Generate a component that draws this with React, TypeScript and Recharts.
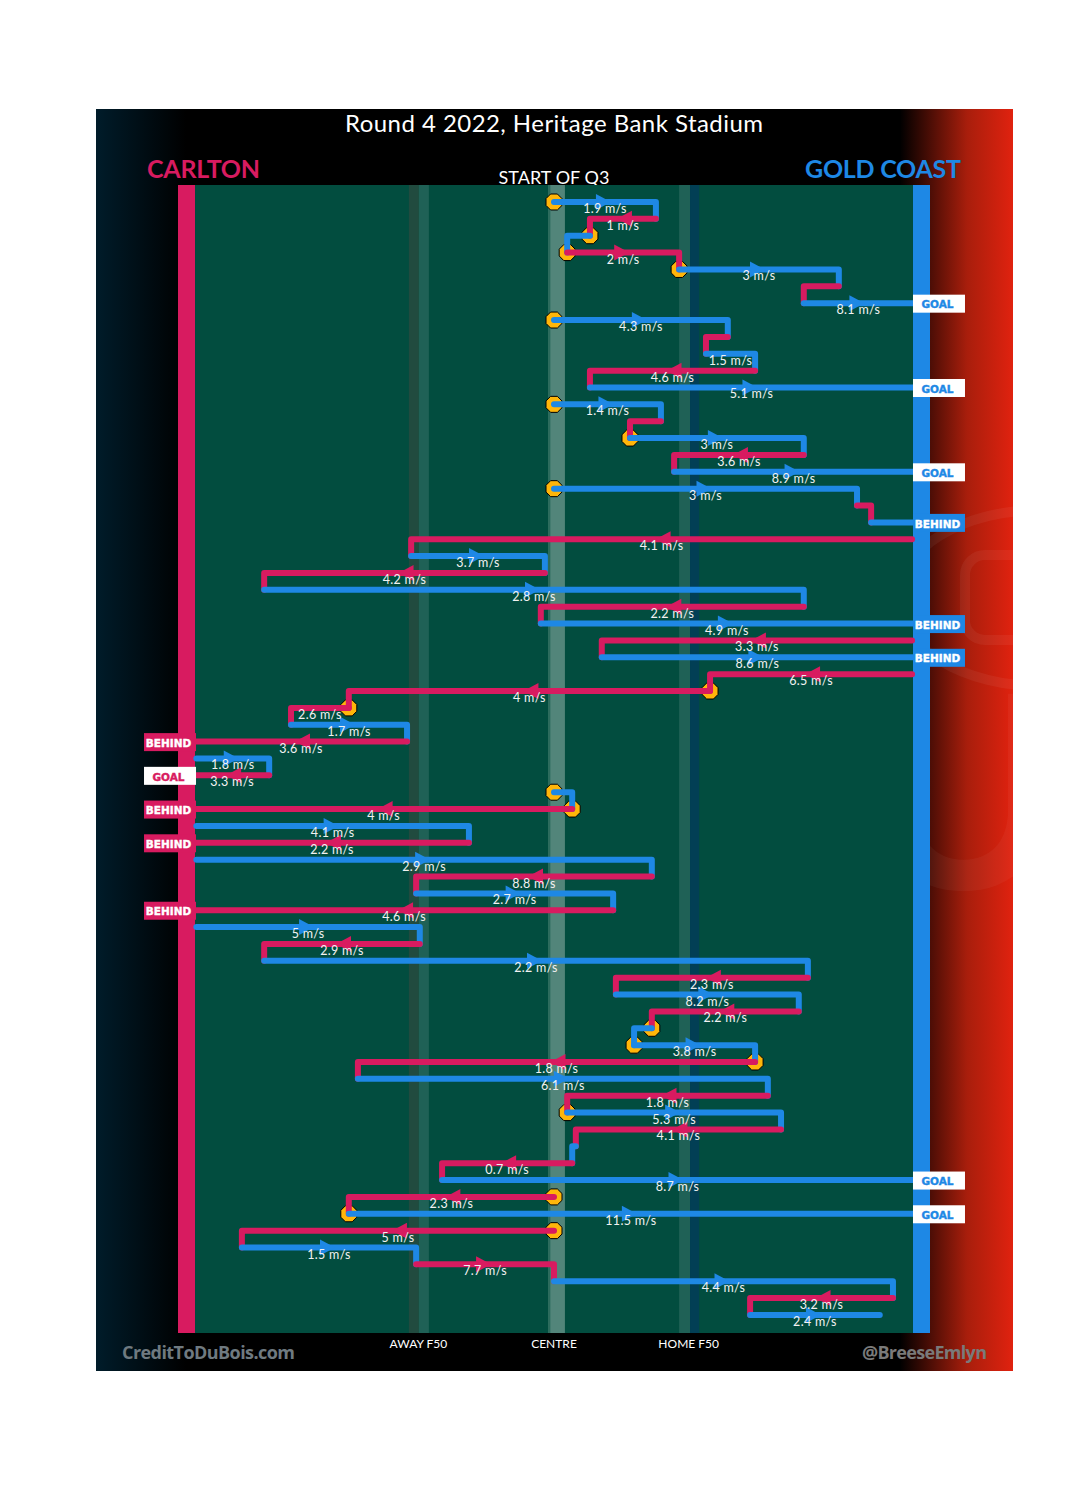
import React from "react";
import { ScatterChart, Scatter, XAxis, YAxis, ReferenceArea } from "recharts";

// x is metres from the centre of the ground, one row per disposal
const rowStart = [
  0, 22.4, 7.9, 2.9, 27.5, 62.6, 54.9, 0, 38.2, 33.4, 44.2, 7.9, 0, 23.5, 16.7, 54.9, 26.4,
  0, 66.6, 69.7, 78.7, -31.4, -2, -63.7, 54.9, -2.9, 78.7, 10.5, 78.7, 34.3, -45.1, -57.8,
  -32.3, -78.6, -62.6, 0, 4, -78.6, -18.7, -78.6, 21.5, -30.3, 13, -78.6, -29.5, -63.7,
  55.8, 13.6, 53.8, 21.5, 17.6, 44.2, -43.1, 47, 2.9, 49.9, 4.8, 4, -24.6, 0, -45.1, 0,
  -68.6, -30.3, 0, 74.5, 43.1,
];
const rowEnd = [
  22.4, 7.9, 2.9, 27.5, 62.6, 54.9, 78.9, 38.2, 33.4, 44.2, 7.9, 78.9, 23.5, 16.7, 54.9,
  26.4, 78.9, 66.6, 69.7, 78.9, -31.4, -2, -63.7, 54.9, -2.9, 78.9, 10.5, 78.9, 34.3, -45.1,
  -57.8, -32.3, -78.9, -62.6, -78.9, 4, -78.9, -18.7, -78.9, 21.5, -30.3, 13, -78.9, -29.5,
  -63.7, 55.8, 13.6, 53.8, 21.5, 17.6, 44.2, -43.1, 47, 2.9, 49.9, 4.8, 4, -24.6, 78.9,
  -45.1, 78.9, -68.6, -30.3, 0, 74.5, 43.1, 71.6,
];
const rowTeam = [
  "GCGCGCG", "GCGCG", "GCGCG", "GCG", "CGCGCG", "CG", "CCCGC", "GC", "GC", "GC", "GCGC",
  "GCGCGCG", "GCGCGCGCG", "CG", "CGCGCG",
].join("");
const rowSpeed: (number | null)[] = [
  1.9, 1, null, 2, 3, null, 8.1, 4.3, null, 1.5, 4.6, 5.1, 1.4, null, 3, 3.6, 8.9, 3, null,
  null, 4.1, 3.7, 4.2, 2.8, 2.2, 4.9, 3.3, 8.6, 6.5, 4, 2.6, 1.7, 3.6, 1.8, 3.3, null, 4,
  4.1, 2.2, 2.9, 8.8, 2.7, 4.6, 5, 2.9, 2.2, 2.3, 8.2, 2.2, null, 3.8, 1.8, 6.1, 1.8, 5.3,
  4.1, null, 0.7, 8.7, 2.3, 11.5, 5, 1.5, 7.7, 4.4, 3.2, 2.4,
];
const rowsWithoutArrow = [9, 30];
const stoppageRows = [0, 2, 3, 4, 7, 12, 14, 17, 29, 30, 35, 36, 49, 50, 51, 54, 59, 60, 61];
const scoreRows = [6, 11, 16, 19, 25, 27, 32, 34, 36, 38, 42, 58, 60];
const scoreKinds = ["GOAL", "GOAL", "GOAL", "BEHIND", "BEHIND", "BEHIND", "BEHIND", "GOAL", "BEHIND", "BEHIND", "BEHIND", "GOAL", "GOAL"];
const axisTicks = [-29.8, 0, 29.6];
const axisTickLabels = ["AWAY F50", "CENTRE", "HOME F50"];

const PINK = "#d81b60";
const BLUE = "#1e88e5";
const FUTURA = "Lato, 'Open Sans', sans-serif";

const teamColor = (i: number) => (rowTeam[i] === "C" ? PINK : BLUE);

const stoppages = stoppageRows.map((row) => ({ x: rowStart[row], row }));
const midpoints = rowStart
  .map((s, row) => ({
    x: (s + rowEnd[row]) / 2,
    row,
    dir: rowEnd[row] > s ? 1 : -1,
    color: teamColor(row),
    speed: rowSpeed[row],
  }))
  .filter((d) => d.speed !== null);
const arrows = midpoints.filter((d) => !rowsWithoutArrow.includes(d.row));
const scores = scoreRows.map((row, i) => ({
  x: rowEnd[row],
  row,
  kind: scoreKinds[i],
  color: teamColor(row),
  side: rowEnd[row] > 0 ? 1 : -1,
}));

const Empty = () => <g />;

const Stoppage = ({ cx, cy }: any) => {
  const r = 8;
  const k = 3.4;
  const pts = [
    [-k, -r], [k, -r], [r, -k], [r, k], [k, r], [-k, r], [-r, k], [-r, -k],
  ].map(([a, b]) => `${cx + a},${cy + b}`);
  return <polygon points={pts.join(" ")} fill="#ffb60a" stroke="#000" strokeWidth={1} />;
};

const Arrow = ({ cx, cy, payload }: any) => {
  const d = payload.dir;
  return (
    <polygon
      points={`${cx - 9 * d},${cy - 8} ${cx + 6 * d},${cy} ${cx - 9 * d},${cy + 8}`}
      fill={payload.color}
    />
  );
};

const SpeedLabel = ({ cx, cy, payload }: any) => (
  <text x={cx} y={cy + 11} textAnchor="middle" fontSize={12.5} fontFamily={FUTURA} fill="#f2f2f2" letterSpacing={0.3}>
    {payload.speed} m/s
  </text>
);

const ScoreBox = ({ cx, cy, payload }: any) => {
  const goal = payload.kind === "GOAL";
  const left = payload.side > 0 ? cx : cx - 51;
  return (
    <g>
      <rect x={left} y={cy - 8.5} width={52} height={18} fill={goal ? "#fff" : payload.color} />
      <text
        x={left + 24.5}
        y={cy + 5.2}
        textAnchor="middle"
        fontSize={10.5}
        fontWeight={700}
        fontFamily="'DejaVu Sans', sans-serif"
        fill={goal ? payload.color : "#fff"}
        stroke={goal ? payload.color : "#fff"}
        strokeWidth={0.4}
      >
        {payload.kind}
      </text>
    </g>
  );
};

export default function App() {
  return (
    <div
      style={{
        position: "absolute",
        left: 96,
        top: 109,
        width: 917,
        height: 1262,
        background:
          "linear-gradient(to right, #001c2a 0px, #000 90px, #000 804px, #a81e0c 871px, #e0220f 917px)",
      }}
    >
      <ScatterChart width={917} height={1262} margin={{ top: 76, bottom: 0, left: 82, right: 83 }}>
        <XAxis
          type="number"
          dataKey="x"
          domain={[-82.64, 82.64]}
          ticks={axisTicks}
          tickFormatter={(v: number) => axisTickLabels[axisTicks.indexOf(v)]}
          axisLine={false}
          tickLine={false}
          tickSize={0}
          tickMargin={6}
          height={38}
          interval={0}
          tick={{ fill: "#fff", fontSize: 12, fontFamily: FUTURA }}
        />
        <YAxis type="number" dataKey="row" domain={[-1.008, 67.07]} reversed hide />
        <ReferenceArea x1={-78.9} x2={78.9} fill="#024d3f" fillOpacity={1} stroke="none" />
        <ReferenceArea x1={-82.64} x2={-78.9} fill={PINK} fillOpacity={1} stroke="none" />
        <ReferenceArea x1={78.9} x2={82.64} fill={BLUE} fillOpacity={1} stroke="none" />
        <ReferenceArea x1={-31.9} x2={-29.7} fill="#214b3f" fillOpacity={1} stroke="none" />
        <ReferenceArea x1={-29.7} x2={-27.5} fill="#1f6156" fillOpacity={1} stroke="none" />
        <ReferenceArea x1={-1.3} x2={2.4} fill="#52857a" fillOpacity={1} stroke="none" />
        <ReferenceArea x1={-1.3} x2={-0.8} fill="#2b6a5c" fillOpacity={1} stroke="none" />
        <ReferenceArea x1={27.5} x2={29.9} fill="#1f6156" fillOpacity={1} stroke="none" />
        <ReferenceArea x1={29.9} x2={31.9} fill="#023f55" fillOpacity={1} stroke="none" />

        <Scatter data={stoppages} shape={Stoppage} isAnimationActive={false} />
        {rowStart.map((s, i) => {
          const pts = [{ x: s, row: i }, { x: rowEnd[i], row: i }];
          if (rowStart[i + 1] === rowEnd[i]) pts.push({ x: rowEnd[i], row: i + 1 });
          return (
            <Scatter
              key={i}
              data={pts}
              shape={Empty}
              isAnimationActive={false}
              line={{
                stroke: teamColor(i),
                strokeWidth: 6,
                strokeLinecap: "round",
                strokeLinejoin: "round",
                fill: "none",
              }}
            />
          );
        })}
        <Scatter data={arrows} shape={Arrow} isAnimationActive={false} />
        <Scatter data={midpoints} shape={SpeedLabel} isAnimationActive={false} />
        <Scatter data={scores} shape={ScoreBox} isAnimationActive={false} />

        {/* faint club logo behind the right hand end */}
        <g fill="none" stroke="#fff" strokeOpacity={0.05} strokeWidth={10}>
          <ellipse cx={944} cy={489} rx={142} ry={88} />
          <rect x={869} y={446} width={90} height={85} rx={20} />
        </g>
        <text x={619} y={780} fontSize={270} fontWeight={700} fontFamily={FUTURA} fill="#fff" fillOpacity={0.04}>
          SU
        </text>

        <text x={458} y={23} textAnchor="middle" fontSize={24} fontFamily={FUTURA} fill="#fff" textLength={418}>
          Round 4 2022, Heritage Bank Stadium
        </text>
        <text x={51} y={69} fontSize={25} fontWeight={700} fontFamily={FUTURA} fill={PINK} textLength={113}>
          CARLTON
        </text>
        <text x={709} y={69} fontSize={25} fontWeight={700} fontFamily={FUTURA} fill={BLUE} textLength={156}>
          GOLD COAST
        </text>
        <text x={458} y={75} textAnchor="middle" fontSize={18} fontFamily={FUTURA} fill="#fff" textLength={111}>
          START OF Q3
        </text>
        <text x={26} y={1250} fontSize={18} fontWeight={700} fontFamily="'Open Sans', sans-serif" fill="#6f7a80" textLength={173}>
          CreditToDuBois.com
        </text>
        <text x={766} y={1250} fontSize={18} fontWeight={700} fontFamily="'Open Sans', sans-serif" fill="#7a7a7a" textLength={125}>
          @BreeseEmlyn
        </text>
      </ScatterChart>
    </div>
  );
}
